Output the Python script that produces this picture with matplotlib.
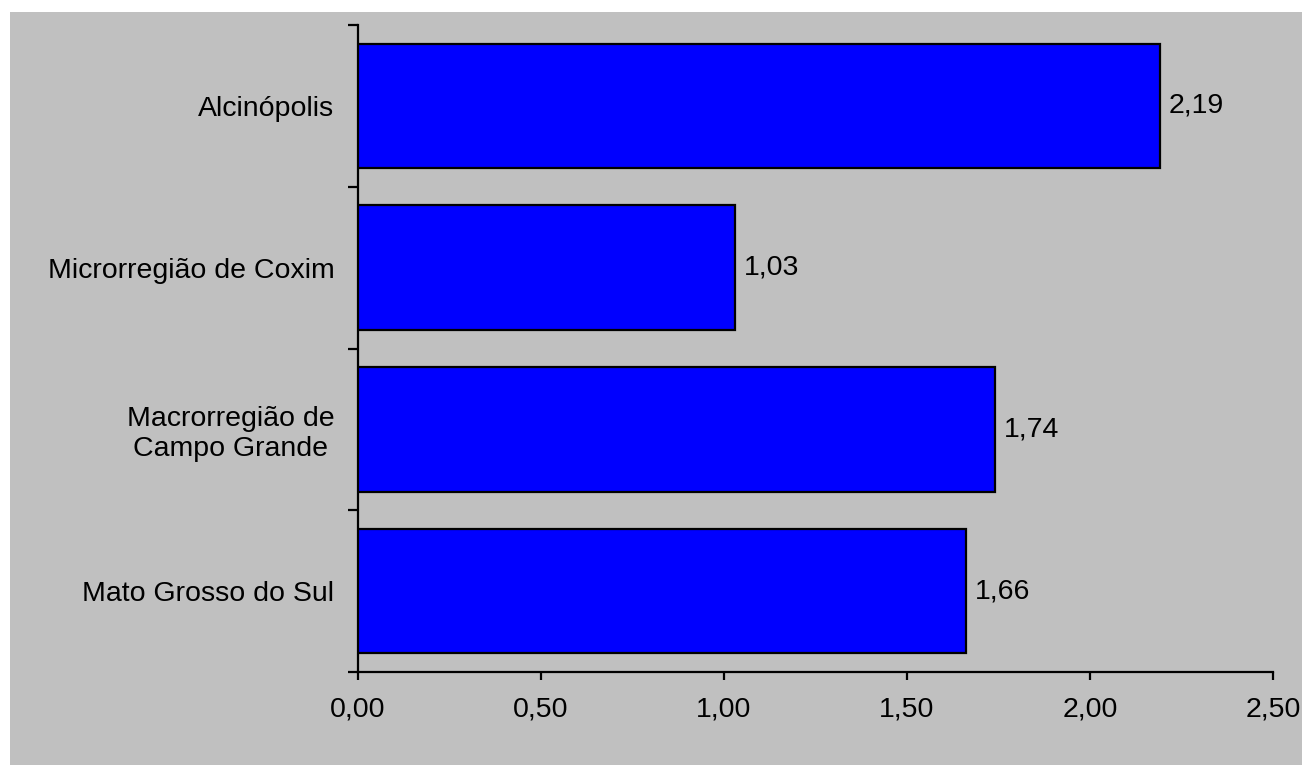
import matplotlib.pyplot as plt
from matplotlib.patches import Rectangle
from matplotlib.ticker import FixedLocator, FixedFormatter

# regions, top to bottom
regioes = ['Alcinópolis', 'Microrregião de Coxim', 'Macrorregião de\nCampo Grande', 'Mato Grosso do Sul']
valores = [2.19, 1.03, 1.74, 1.66]
xticks = [0.0, 0.5, 1.0, 1.5, 2.0, 2.5]

plt.rcParams['font.family'] = ['Liberation Sans', 'DejaVu Sans']
fs = 20.5

fig = plt.figure(figsize=(13.02, 7.65), dpi=100)
fig.patch.set_facecolor('white')
# gray chart area, leaving a thin white strip on the left and top
fig.patches.append(Rectangle((10 / 1302, 0), 1, 1 - 12 / 765, transform=fig.transFigure,
                             facecolor='#c0c0c0', edgecolor='none', zorder=-10))

ax = fig.add_axes([358 / 1302, 1 - 672 / 765, (1273 - 358) / 1302, (672 - 25) / 765])
ax.set_facecolor('none')
ax.set_zorder(5)

n = len(regioes)
pos = [n - 1 - i for i in range(n)]
ax.barh(pos, valores, height=0.77, color='#0000ff', edgecolor='black', linewidth=1.6, zorder=3)

for p, v in zip(pos, valores):
    ax.text(v + 0.025, p, f'{v:.2f}'.replace('.', ','), va='center', ha='left', fontsize=fs)

ax.set_xlim(0, 2.5)
ax.set_ylim(-0.5, n - 0.5)

ax.set_xticks(xticks)
ax.set_xticklabels([f'{t:.2f}'.replace('.', ',') for t in xticks], fontsize=fs)
ax.tick_params(axis='x', direction='out', length=6, width=1.6, pad=12)

# category boundaries get the ticks, names sit between them
ax.yaxis.set_major_locator(FixedLocator([i - 0.5 for i in range(n + 1)]))
ax.yaxis.set_major_formatter(FixedFormatter([''] * (n + 1)))
ax.yaxis.set_minor_locator(FixedLocator(pos))
ax.yaxis.set_minor_formatter(FixedFormatter(regioes))
ax.tick_params(axis='y', which='major', direction='out', length=7, width=1.6)
ax.tick_params(axis='y', which='minor', length=0, pad=17, labelsize=fs)
for lbl in ax.get_yminorticklabels():
    lbl.set_multialignment('center')
    lbl.set_linespacing(1.2)

for s in ['top', 'right']:
    ax.spines[s].set_visible(False)
for s in ['left', 'bottom']:
    ax.spines[s].set_linewidth(1.6)

fig.savefig('out.png', dpi=100)
